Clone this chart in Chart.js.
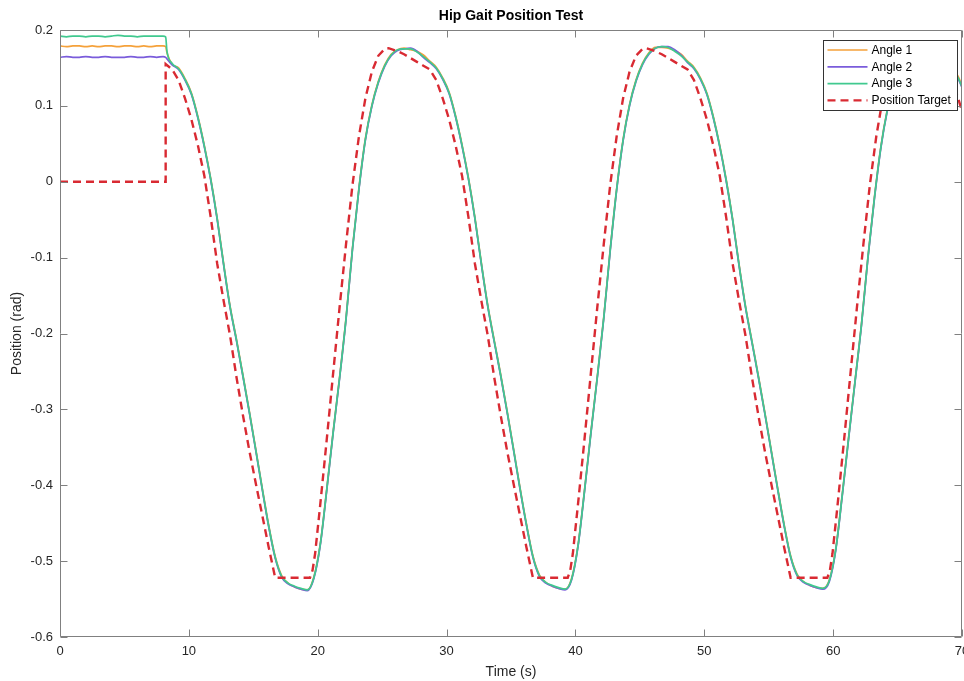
<!DOCTYPE html>
<html>
<head>
<meta charset="utf-8">
<title>Hip Gait Position Test</title>
<script src="https://cdn.jsdelivr.net/npm/chart.js@4.4.0/dist/chart.umd.min.js"></script>
<style>
  html, body { margin: 0; padding: 0; background: #ffffff; }
  canvas { display: block; }
</style>
</head>
<body>
<canvas id="chart" width="964" height="681"></canvas>
<script>
// Sample times (s) shared by the three joint-angle traces
const timeS = [
  0, 0.5, 1, 1.5, 2, 2.5, 3, 3.5, 4, 4.5, 5, 5.5, 6, 6.5, 7, 7.5, 8,
  8.2, 8.3,
  8.7, 9.2, 9.7, 10.2, 10.7, 11.2, 11.7, 12.2, 12.7, 13.2, 13.7, 14.2, 14.7, 15.2, 15.7, 16.2, 16.7, 17.2, 17.7, 18.2,
  18.7, 19.2, 19.7, 20.2, 20.7, 21.2, 21.7, 22.2, 22.7, 23.2, 23.7, 24.2, 24.7, 25.2, 25.7, 26.2, 26.7, 27.2, 27.7, 28.2,
  28.7, 29.2, 29.7, 30.2, 30.7, 31.2, 31.7, 32.2, 32.7, 33.2, 33.7, 34.2, 34.7, 35.2, 35.7, 36.2, 36.7, 37.2, 37.7, 38.2,
  38.7, 39.2, 39.7, 40.2, 40.7, 41.2, 41.7, 42.2, 42.7, 43.2, 43.7, 44.2, 44.7, 45.2, 45.7, 46.2, 46.7, 47.2, 47.7, 48.2,
  48.7, 49.2, 49.7, 50.2, 50.7, 51.2, 51.7, 52.2, 52.7, 53.2, 53.7, 54.2, 54.7, 55.2, 55.7, 56.2, 56.7, 57.2, 57.7, 58.2,
  58.7, 59.2, 59.7, 60.2, 60.7, 61.2, 61.7, 62.2, 62.7, 63.2, 63.7, 64.2, 64.7, 65.2, 65.7, 66.2, 66.7, 67.2, 67.7, 68.2,
  68.7, 69.2, 69.7, 70
];

// Measured hip angle, sensor 1 (rad)
const angle1 = [
  0.179, 0.178, 0.179, 0.179, 0.178, 0.179, 0.178, 0.179, 0.179, 0.178, 0.179, 0.179, 0.178, 0.179, 0.178, 0.179, 0.179,
  0.178, 0.170,
  0.155, 0.150, 0.136, 0.117, 0.086, 0.048, 0.004, -0.048, -0.108, -0.164, -0.208, -0.255, -0.303, -0.353, -0.404, -0.453, -0.494, -0.519, -0.529, -0.534,
  -0.537, -0.538, -0.521, -0.477, -0.405, -0.329, -0.257, -0.179, -0.087, -0.008, 0.057, 0.101, 0.132, 0.154, 0.168, 0.174, 0.176, 0.174, 0.172, 0.167,
  0.159, 0.151, 0.137, 0.118, 0.087, 0.049, 0.005, -0.047, -0.107, -0.163, -0.209, -0.254, -0.302, -0.352, -0.403, -0.451, -0.493, -0.518, -0.528, -0.533,
  -0.536, -0.537, -0.523, -0.479, -0.407, -0.330, -0.256, -0.178, -0.089, -0.009, 0.056, 0.102, 0.134, 0.156, 0.170, 0.177, 0.177, 0.176, 0.173, 0.168,
  0.159, 0.151, 0.137, 0.117, 0.086, 0.048, 0.003, -0.049, -0.109, -0.164, -0.210, -0.256, -0.304, -0.354, -0.404, -0.452, -0.493, -0.517, -0.527, -0.532,
  -0.535, -0.536, -0.525, -0.484, -0.413, -0.337, -0.262, -0.187, -0.099, -0.021, 0.046, 0.095, 0.130, 0.153, 0.168, 0.176, 0.177, 0.175, 0.172, 0.166,
  0.159, 0.151, 0.139, 0.127
];

// Measured hip angle, sensor 2 (rad)
const angle2 = [
  0.164, 0.165, 0.164, 0.164, 0.165, 0.164, 0.164, 0.165, 0.164, 0.164, 0.164, 0.165, 0.164, 0.164, 0.165, 0.164, 0.165,
  0.164, 0.162,
  0.154, 0.148, 0.134, 0.115, 0.084, 0.046, 0.002, -0.050, -0.110, -0.166, -0.210, -0.257, -0.305, -0.355, -0.406, -0.455, -0.496, -0.521, -0.530, -0.534,
  -0.537, -0.539, -0.523, -0.479, -0.407, -0.331, -0.259, -0.181, -0.089, -0.010, 0.055, 0.099, 0.130, 0.152, 0.166, 0.173, 0.175, 0.176, 0.172, 0.164,
  0.157, 0.149, 0.135, 0.116, 0.085, 0.047, 0.003, -0.049, -0.109, -0.165, -0.211, -0.256, -0.304, -0.354, -0.405, -0.453, -0.495, -0.520, -0.529, -0.533,
  -0.536, -0.538, -0.525, -0.481, -0.409, -0.332, -0.258, -0.180, -0.091, -0.011, 0.054, 0.100, 0.132, 0.154, 0.168, 0.176, 0.178, 0.178, 0.174, 0.167,
  0.157, 0.149, 0.135, 0.115, 0.084, 0.046, 0.001, -0.051, -0.111, -0.166, -0.212, -0.258, -0.306, -0.356, -0.406, -0.454, -0.495, -0.519, -0.528, -0.532,
  -0.535, -0.537, -0.527, -0.486, -0.415, -0.339, -0.264, -0.189, -0.101, -0.023, 0.044, 0.093, 0.128, 0.151, 0.166, 0.174, 0.176, 0.176, 0.170, 0.164,
  0.157, 0.149, 0.136, 0.124
];

// Measured hip angle, sensor 3 (rad)
const angle3 = [
  0.192, 0.191, 0.192, 0.192, 0.191, 0.192, 0.192, 0.191, 0.192, 0.193, 0.192, 0.192, 0.191, 0.192, 0.192, 0.192, 0.192,
  0.191, 0.172,
  0.156, 0.149, 0.135, 0.116, 0.085, 0.047, 0.003, -0.049, -0.109, -0.165, -0.209, -0.256, -0.304, -0.354, -0.405, -0.454, -0.495, -0.520, -0.529, -0.533,
  -0.536, -0.538, -0.522, -0.478, -0.406, -0.330, -0.258, -0.180, -0.088, -0.009, 0.056, 0.100, 0.131, 0.153, 0.167, 0.174, 0.175, 0.175, 0.171, 0.165,
  0.158, 0.150, 0.136, 0.117, 0.086, 0.048, 0.004, -0.048, -0.108, -0.164, -0.210, -0.255, -0.303, -0.353, -0.404, -0.452, -0.494, -0.519, -0.528, -0.532,
  -0.535, -0.537, -0.524, -0.480, -0.408, -0.331, -0.257, -0.179, -0.090, -0.010, 0.055, 0.101, 0.133, 0.155, 0.169, 0.176, 0.178, 0.177, 0.172, 0.166,
  0.158, 0.150, 0.136, 0.116, 0.085, 0.047, 0.002, -0.050, -0.110, -0.165, -0.211, -0.257, -0.305, -0.355, -0.405, -0.453, -0.494, -0.518, -0.527, -0.531,
  -0.534, -0.536, -0.526, -0.485, -0.414, -0.338, -0.263, -0.188, -0.100, -0.022, 0.045, 0.094, 0.129, 0.152, 0.167, 0.175, 0.177, 0.176, 0.171, 0.165,
  0.158, 0.150, 0.137, 0.125
];

// Commanded gait trajectory: break points (s) and positions (rad)
const targetTime = [
  0, 8.2, 8.2,
  8.7, 9.2, 9.7, 10.2, 10.7, 11.2, 11.7, 12.2, 12.7, 13.2, 13.7, 14.2, 14.7, 15.2, 15.7, 16.2, 16.7,
  19.4, 19.6, 19.8, 20.2, 20.7, 21.2, 21.7, 22.2, 22.7, 23.2, 23.7, 24.2, 24.7, 25.2, 25.5, 26.2, 26.7, 27.2, 27.7, 28.2,
  28.7, 29.2, 29.7, 30.2, 30.7, 31.2, 31.7, 32.2, 32.7, 33.2, 33.7, 34.2, 34.7, 35.2, 35.7, 36.2, 36.7,
  39.4, 39.6, 39.8, 40.2, 40.7, 41.2, 41.7, 42.2, 42.7, 43.2, 43.7, 44.2, 44.7, 45.2, 45.5, 46.2, 46.7, 47.2, 47.7, 48.2,
  48.7, 49.2, 49.7, 50.2, 50.7, 51.2, 51.7, 52.2, 52.7, 53.2, 53.7, 54.2, 54.7, 55.2, 55.7, 56.2, 56.7,
  59.55, 59.75, 59.95, 60.35, 60.85, 61.35, 61.85, 62.35, 62.85, 63.35, 63.85, 64.35, 64.85, 65.35, 65.65, 66.35, 66.85, 67.35, 67.85, 68.2,
  68.7, 69.2, 69.7, 70
];
const targetPos = [
  0, 0, 0.155,
  0.148, 0.134, 0.110, 0.082, 0.048, 0.008, -0.047, -0.108, -0.157, -0.203, -0.258, -0.308, -0.355, -0.398, -0.440, -0.482, -0.522,
  -0.522, -0.512, -0.490, -0.425, -0.340, -0.252, -0.165, -0.082, -0.004, 0.060, 0.110, 0.145, 0.166, 0.175, 0.176, 0.172, 0.168, 0.163, 0.158, 0.153,
  0.148, 0.134, 0.110, 0.082, 0.048, 0.008, -0.047, -0.108, -0.157, -0.203, -0.258, -0.308, -0.355, -0.398, -0.440, -0.482, -0.522,
  -0.522, -0.512, -0.490, -0.425, -0.340, -0.252, -0.165, -0.082, -0.004, 0.060, 0.110, 0.145, 0.166, 0.175, 0.176, 0.172, 0.168, 0.163, 0.158, 0.153,
  0.148, 0.134, 0.110, 0.082, 0.048, 0.008, -0.047, -0.108, -0.157, -0.203, -0.258, -0.308, -0.355, -0.398, -0.440, -0.482, -0.522,
  -0.522, -0.512, -0.490, -0.425, -0.340, -0.252, -0.165, -0.082, -0.004, 0.060, 0.110, 0.145, 0.166, 0.175, 0.176, 0.172, 0.168, 0.163, 0.158, 0.153,
  0.148, 0.134, 0.110, 0.093
];

const seriesNames = ['Angle 1', 'Angle 2', 'Angle 3', 'Position Target'];
const seriesColors = ['#f5a13a', '#7a5cdb', '#40c98f', '#d92a32'];

const FONT = '"Liberation Sans", Arial, Helvetica, sans-serif';
const AXIS_COLOR = '#808080';
const TEXT_COLOR = '#262626';

function pairs(xs, ys) {
  return xs.map((x, i) => ({ x: x, y: ys[i] }));
}

// Axes box with inward tick marks, plus the boxed legend in the upper right
const axesFrame = {
  id: 'axesFrame',
  afterDatasetsDraw(chart) {
    const ctx = chart.ctx;
    const { left, right, top, bottom } = chart.chartArea;
    const xs = chart.scales.x, ys = chart.scales.y;
    const L = Math.round(left) + 0.5, R = Math.round(right) - 0.5;
    const T = Math.round(top) + 0.5, B = Math.round(bottom) - 0.5;
    const tick = 7;

    ctx.save();
    ctx.strokeStyle = AXIS_COLOR;
    ctx.lineWidth = 1;
    ctx.setLineDash([]);
    ctx.beginPath();
    ctx.rect(L, T, R - L, B - T);
    xs.ticks.forEach(t => {
      const px = Math.round(xs.getPixelForValue(t.value)) + 0.5;
      ctx.moveTo(px, B); ctx.lineTo(px, B - tick);
      ctx.moveTo(px, T); ctx.lineTo(px, T + tick);
    });
    ys.ticks.forEach(t => {
      const py = Math.round(ys.getPixelForValue(t.value)) + 0.5;
      ctx.moveTo(L, py); ctx.lineTo(L + tick, py);
      ctx.moveTo(R, py); ctx.lineTo(R - tick, py);
    });
    ctx.stroke();

    // legend
    const boxW = 134, boxH = 70;
    const bx = Math.round(right) - 5 - boxW + 0.5;
    const by = Math.round(top) + 10 + 0.5;
    ctx.fillStyle = '#ffffff';
    ctx.fillRect(bx, by, boxW, boxH);
    ctx.strokeStyle = '#333333';
    ctx.strokeRect(bx, by, boxW, boxH);
    ctx.font = '12px ' + FONT;
    ctx.textBaseline = 'middle';
    ctx.textAlign = 'left';
    chart.data.datasets.forEach((ds, i) => {
      const cy = by + 9.5 + i * 16.8;
      ctx.strokeStyle = ds.borderColor;
      ctx.lineWidth = ds.borderWidth;
      ctx.setLineDash(ds.borderDash || []);
      ctx.beginPath();
      ctx.moveTo(bx + 4, cy);
      ctx.lineTo(bx + 44, cy);
      ctx.stroke();
      ctx.setLineDash([]);
      ctx.fillStyle = '#000000';
      ctx.fillText(ds.label, bx + 48, cy + 0.5);
    });
    ctx.restore();
  }
};

Chart.defaults.font.family = FONT;

const angleStyle = { borderWidth: 1.7, pointRadius: 0, cubicInterpolationMode: 'monotone' };

new Chart(document.getElementById('chart'), {
  type: 'line',
  data: {
    datasets: [
      Object.assign({ label: seriesNames[0], data: pairs(timeS, angle1), borderColor: seriesColors[0], order: 3 }, angleStyle),
      Object.assign({ label: seriesNames[1], data: pairs(timeS, angle2), borderColor: seriesColors[1], order: 2 }, angleStyle),
      Object.assign({ label: seriesNames[2], data: pairs(timeS, angle3), borderColor: seriesColors[2], order: 1 }, angleStyle),
      { label: seriesNames[3], data: pairs(targetTime, targetPos), borderColor: seriesColors[3], borderWidth: 2.4, borderDash: [8, 5], pointRadius: 0, tension: 0, order: 0 }
    ]
  },
  options: {
    responsive: false,
    animation: false,
    events: [],
    layout: { padding: { left: 0, right: 2, top: 0, bottom: 0 } },
    plugins: {
      legend: { display: false },
      tooltip: { enabled: false },
      title: {
        display: true,
        text: 'Hip Gait Position Test',
        fullSize: false,
        color: '#000000',
        font: { size: 14, weight: 'bold' },
        padding: { top: 8, bottom: 5.2 }
      }
    },
    scales: {
      x: {
        type: 'linear',
        min: 0,
        max: 70,
        grid: { display: false, drawTicks: false },
        border: { display: false },
        ticks: { stepSize: 10, color: TEXT_COLOR, font: { size: 13 }, padding: 7, maxRotation: 0, autoSkip: false },
        title: { display: true, text: 'Time (s)', color: TEXT_COLOR, font: { size: 14 }, padding: { top: 4, bottom: 0 } },
        afterFit(scale) { scale.height = 44; scale.paddingLeft = 0; scale.paddingRight = 0; }
      },
      y: {
        type: 'linear',
        min: -0.6,
        max: 0.2,
        grid: { display: false, drawTicks: false },
        border: { display: false },
        ticks: {
          stepSize: 0.1,
          color: TEXT_COLOR,
          font: { size: 13 },
          padding: 7,
          callback: v => String(parseFloat(Number(v).toFixed(1)))
        },
        title: { display: true, text: 'Position (rad)', color: TEXT_COLOR, font: { size: 14 }, padding: { top: 9, bottom: 0 } },
        afterFit(scale) { scale.width = 60; scale.paddingTop = 0; scale.paddingBottom = 0; }
      }
    }
  },
  plugins: [axesFrame]
});
</script>
</body>
</html>
